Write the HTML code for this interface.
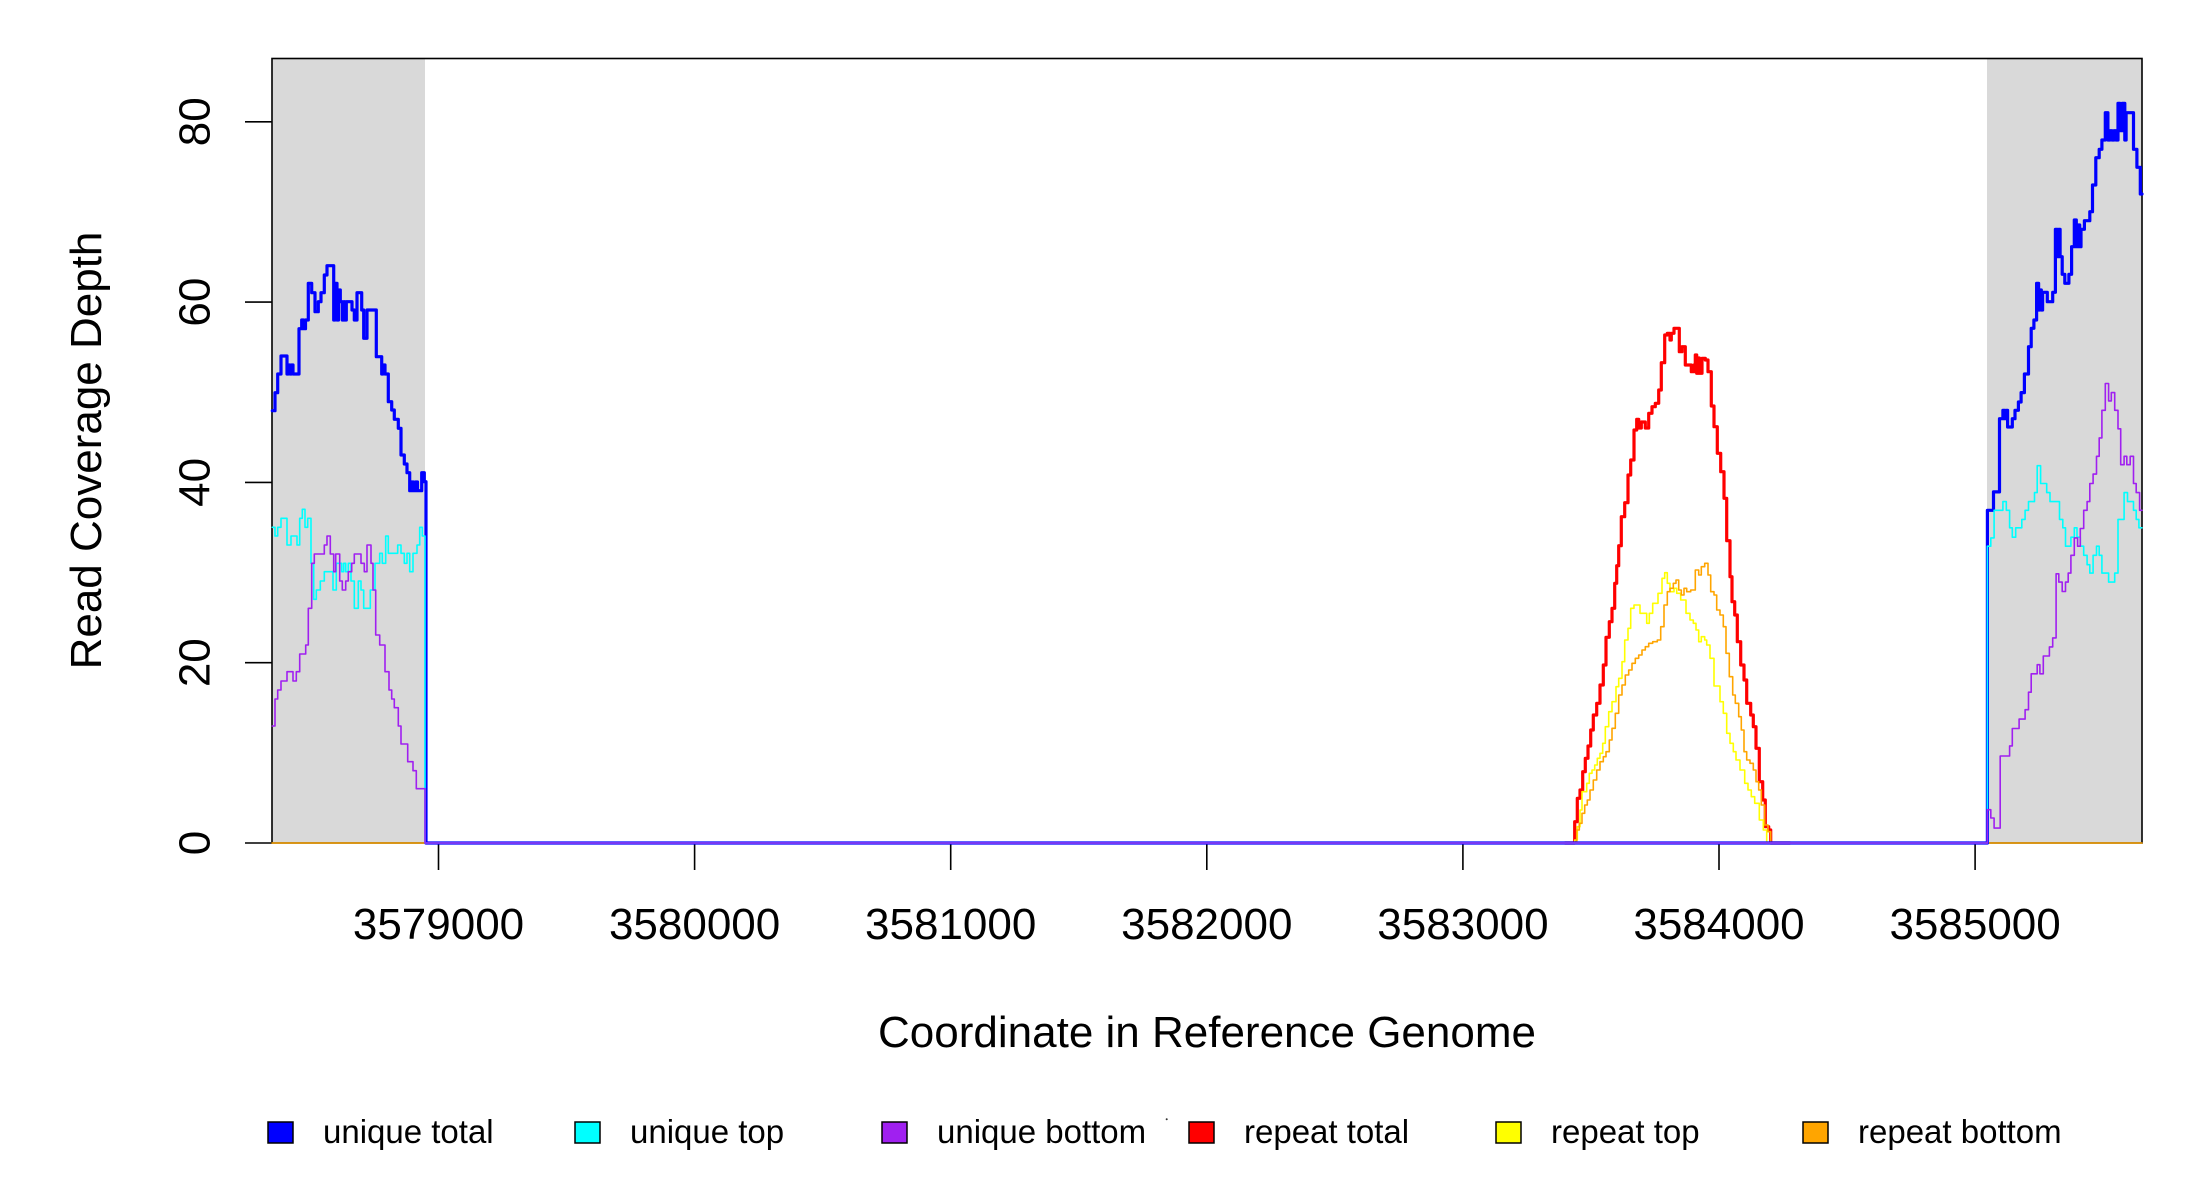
<!DOCTYPE html>
<html>
<head>
<meta charset="utf-8">
<style>
  html, body { margin: 0; padding: 0; background: #ffffff; }
  svg { display: block; }
  text { font-family: "Liberation Sans", Arial, sans-serif; fill: #000; }
</style>
</head>
<body>
<svg width="2200" height="1200" viewBox="0 0 2200 1200" xmlns="http://www.w3.org/2000/svg">
  <rect x="0" y="0" width="2200" height="1200" fill="#ffffff"/>

  <!-- shaded regions -->
  <rect x="272" y="58.5" width="153" height="784.5" fill="#d9d9d9"/>
  <rect x="1987" y="58.5" width="155" height="784.5" fill="#d9d9d9"/>

  <!-- plot box -->
  <rect x="272" y="58.5" width="1870" height="784.5" fill="none" stroke="#000" stroke-width="1.6"/>

  <!-- y ticks -->
  <g stroke="#000" stroke-width="1.6">
    <line x1="245" y1="843" x2="272" y2="843"/>
    <line x1="245" y1="662.7" x2="272" y2="662.7"/>
    <line x1="245" y1="482.4" x2="272" y2="482.4"/>
    <line x1="245" y1="302.1" x2="272" y2="302.1"/>
    <line x1="245" y1="121.8" x2="272" y2="121.8"/>
  </g>
  <!-- x ticks -->
  <g stroke="#000" stroke-width="1.6">
    <line x1="438.5" y1="843" x2="438.5" y2="870"/>
    <line x1="694.6" y1="843" x2="694.6" y2="870"/>
    <line x1="950.7" y1="843" x2="950.7" y2="870"/>
    <line x1="1206.8" y1="843" x2="1206.8" y2="870"/>
    <line x1="1462.9" y1="843" x2="1462.9" y2="870"/>
    <line x1="1719" y1="843" x2="1719" y2="870"/>
    <line x1="1975.1" y1="843" x2="1975.1" y2="870"/>
  </g>

  <!-- y tick labels -->
  <g font-size="44" text-anchor="middle">
    <text transform="translate(209.7,843) rotate(-90)">0</text>
    <text transform="translate(209.7,662.7) rotate(-90)">20</text>
    <text transform="translate(209.7,482.4) rotate(-90)">40</text>
    <text transform="translate(209.7,302.1) rotate(-90)">60</text>
    <text transform="translate(209.7,121.8) rotate(-90)">80</text>
  </g>
  <!-- x tick labels -->
  <g font-size="44" text-anchor="middle">
    <text x="438.5" y="939">3579000</text>
    <text x="694.6" y="939">3580000</text>
    <text x="950.7" y="939">3581000</text>
    <text x="1206.8" y="939">3582000</text>
    <text x="1462.9" y="939">3583000</text>
    <text x="1719" y="939">3584000</text>
    <text x="1975.1" y="939">3585000</text>
  </g>

  <!-- axis titles -->
  <text x="1207" y="1047" font-size="44" text-anchor="middle">Coordinate in Reference Genome</text>
  <text transform="translate(101,450.5) rotate(-90)" font-size="44" text-anchor="middle">Read Coverage Depth</text>

  <!-- series -->
  <g fill="none" stroke-linejoin="round" stroke-linecap="round">
    <!-- repeat total (red) -->
    <path stroke="#ff0000" stroke-width="3.2" d="M1565,843 H1574.7 V821.7 H1577.3 V798.3 H1580 V790 H1582.7 V771.7 H1585.3 V758.3 H1588 V746 H1590.7 V730 H1593.3 V715 H1596.7 V703.3 H1600 V685 H1603.3 V665 H1606 V637.3 H1609.3 V621.7 H1612 V608.3 H1614.7 V583.3 H1616.7 V565.7 H1618.7 V545.7 H1621.3 V516.7 H1624.7 V502.7 H1628 V475 H1630.7 V460 H1634 V430 H1636.7 V419.3 H1638.7 V428 H1641.3 V422 H1645.3 V428 H1648.7 V413.3 H1652 V406.7 H1655.3 V403.3 H1658.7 V390 H1661.3 V362.7 H1664.7 V335 H1667.3 V333.3 H1670 V340 H1671.3 V333.3 H1674 V328.3 H1679.3 V351.7 H1682 V346.7 H1685.3 V365 H1691.3 V371.7 H1694 V365 H1695.3 V355 H1696.7 V373.3 H1698 V358 H1699.3 V373.3 H1702 V358.3 H1705.3 V360 H1708 V371.7 H1711.3 V406 H1714 V426.7 H1717.3 V453.3 H1720.7 V471.7 H1724 V498.3 H1726.7 V540.7 H1730 V576.7 H1732 V601.7 H1734.7 V615 H1737.3 V641.7 H1740.7 V665 H1744 V680 H1746.7 V703.3 H1750.7 V715 H1753.3 V726.7 H1756 V748.3 H1759.3 V781.7 H1762.7 V800 H1765.3 V826.7 H1768.7 V830 H1770.7 V843 H1790"/>
    <!-- repeat top (yellow) -->
    <path stroke="#ffff00" stroke-width="1.6" d="M1570,843 H1574.7 V840 H1577.3 V826.7 H1580 V810 H1582 V791.7 H1586.7 V783.3 H1589.3 V773.3 H1592 V770 H1594.7 V765 H1597.3 V758.3 H1600 V753.3 H1602.7 V743.3 H1605.3 V726.7 H1608.7 V711.7 H1612 V701.7 H1616 V686.7 H1618.7 V678.3 H1622 V661.7 H1624.7 V640 H1628 V628.3 H1630.7 V608.3 H1634 V605 H1640 V613.3 H1646.7 V623.3 H1649.3 V613.3 H1652.7 V603.3 H1658 V593.3 H1662 V578.3 H1664.7 V572.7 H1667.3 V583.3 H1670 V591.7 H1674 V588.3 H1676.7 V593.3 H1680.7 V600 H1686 V613.3 H1690 V620 H1693.3 V623.3 H1696 V630 H1698.7 V641.7 H1701.3 V636.7 H1704.7 V640 H1706.7 V645 H1710 V658.3 H1714 V686 H1720 V701.7 H1723.3 V713.3 H1726.7 V733.3 H1730 V743.3 H1733.3 V751.7 H1736 V760 H1740 V770 H1744.7 V783.3 H1748 V790 H1751.3 V796.7 H1754.7 V803.3 H1759.3 V820 H1763.3 V830 H1766.7 V843 H1790"/>
    <!-- repeat bottom (orange) -->
    <path stroke="#ffa500" stroke-width="1.6" d="M272,843 H1576.7 V830 H1579.3 V823.3 H1582 V813.3 H1584.7 V805 H1587.3 V800 H1590 V790 H1593.3 V780 H1596.7 V770 H1600 V761.7 H1603.3 V756.7 H1606 V751.7 H1609.3 V740 H1612 V728.3 H1615.3 V713.3 H1618.7 V695 H1622 V685 H1625.3 V675 H1628.7 V670 H1632 V663.3 H1635.3 V658.3 H1638.7 V655 H1642 V650 H1645.3 V646.7 H1648.7 V643.3 H1652.7 V641.7 H1657.3 V640 H1660.7 V626.7 H1664 V605 H1667.3 V591.7 H1670 V588.3 H1673.3 V583.3 H1676 V580 H1678.7 V590 H1681.3 V595 H1684 V588.3 H1686.7 V591.7 H1690.7 V590 H1695.3 V570 H1698.7 V575 H1701.3 V566.7 H1704.7 V563.3 H1708 V575 H1710.7 V591.7 H1714 V595 H1716.7 V610 H1720 V615 H1723.3 V626.7 H1726 V653.3 H1729.3 V676.7 H1732.7 V695 H1735.3 V703.3 H1738.7 V716.7 H1741.3 V730 H1744 V751.7 H1746.7 V760 H1750 V763.3 H1753.3 V770 H1756 V781.7 H1758.7 V790 H1761.3 V805 H1764.7 V825 H1768 V831.7 H1770.7 V843 H2142"/>

    <!-- unique total (blue) -->
    <path stroke="#0000ff" stroke-width="3.2" d="M272.3,410.7 H275 V392.7 H277.7 V374 H281 V356 H287 V374 H288.3 V365 H290 V374 H291.5 V365 H293 V374 H299 V328.7 H301.7 V320 H303.5 V328.7 H305.5 V320 H308.3 V283.3 H311.7 V292.7 H315 V311.7 H318.3 V301.7 H321 V292.7 H324.3 V275 H327 V265.7 H333.7 V320 H335 V283.3 H337 V320 H338.5 V290 H340.3 V301.7 H342.3 V320 H344 V301.7 H345 V320 H346.3 V301.7 H350.3 V301.7 H352 V310 H354.3 V320 H357 V292.7 H361.7 V310 H363.7 V338.3 H367 V310 H376.3 V356.7 H381.7 V374 H383 V365 H385 V374 H388.3 V401.7 H391.7 V410 H394.3 V419.3 H398.3 V428.3 H401 V455 H404.3 V464 H407 V472.7 H409.7 V490.7 H411.5 V482 H413.5 V490.7 H415.5 V482 H417.5 V490.7 H421.7 V472.7 H424.3 V481.7 H426 V843 H1987.4 V510.3 H1993.5 V491.9 H1999.5 V418.7 H2002.9 V410.3 H2004.9 V418.7 H2006.3 V410.3 H2007.6 V427 H2012.3 V418.7 H2015 V410.3 H2018.4 V402 H2021.1 V392.6 H2024.4 V374 H2028.5 V346.7 H2031.2 V328.3 H2033.9 V320 H2036.6 V283.3 H2038.6 V310 H2039.9 V290 H2041.3 V310 H2042.6 V292.3 H2047.3 V301.7 H2052.7 V292.3 H2055.4 V229.3 H2057.4 V256.7 H2058.8 V229.3 H2060.1 V256.7 H2062.2 V274.3 H2064.8 V283.3 H2068.9 V274.3 H2071.6 V246.7 H2074.3 V220 H2076.3 V246.7 H2077.6 V225 H2079.7 V246.7 H2081 V229.3 H2084.4 V220.7 H2089.8 V211.7 H2092.5 V185 H2095.8 V157.7 H2099.2 V149.3 H2101.9 V140 H2105.3 V112.7 H2107.9 V140 H2110 V130.7 H2112 V140 H2114 V130.7 H2116 V140 H2118 V103.3 H2120 V130.7 H2122.1 V103.3 H2124.8 V140 H2126.1 V112.7 H2133.5 V149.3 H2136.9 V167.3 H2140.3 V194 H2142"/>

    <!-- unique top (cyan) -->
    <path stroke="#00ffff" stroke-width="1.6" d="M272.3,527.3 H275 V536 H277.7 V527.3 H281 V518.3 H287 V545 H291 V536 H297 V545 H299.7 V518.3 H302.3 V509.3 H305 V527.3 H307.7 V518.3 H311 V563.3 H313.7 V599.3 H316.3 V590 H320.3 V581 H324.3 V571.7 H330.3 V571.7 H333 V590 H336.3 V563.3 H340.3 V563.3 H341.7 V571.7 H343.7 V563.3 H345.7 V571.7 H348.3 V563.3 H351 V581 H354.3 V608.3 H358.3 V581 H361 V590 H363.7 V608.3 H370.3 V590 H375 V563.3 H379.7 V553.3 H382.3 V563.3 H385.7 V536 H388.3 V553.3 H397.7 V545 H401 V553.3 H404.3 V563.3 H407 V553.3 H409.7 V571.7 H413 V553.3 H417 V545 H419.7 V527.3 H422.3 V536 H425 V843 H1987.4 V546.2 H1990.8 V537.9 H1994.1 V510.3 H2002.9 V501.6 H2006.3 V510.3 H2009.6 V527.8 H2012.3 V537.2 H2015.7 V527.8 H2021.8 V519.4 H2025.1 V510.3 H2028.5 V501.6 H2034.5 V492.6 H2037.2 V465.7 H2040.6 V483.5 H2046.7 V492.6 H2050 V501.6 H2059.5 V519.4 H2062.8 V527.8 H2065.5 V546.2 H2070.9 V537.2 H2074.3 V527.8 H2077 V537.2 H2080.3 V546.2 H2083.7 V555.3 H2087.1 V564.7 H2089.8 V573.1 H2093.1 V555.3 H2096.5 V546.2 H2099.2 V555.3 H2101.9 V573.1 H2108.6 V582.1 H2114.7 V573.1 H2118 V519.4 H2124.1 V492.6 H2127.5 V501.6 H2133.5 V510.3 H2136.2 V519.4 H2138.9 V527.8 H2142"/>

    <!-- unique bottom (purple) -->
    <path stroke="#a020f0" stroke-width="1.6" d="M272.3,726 H275 V699 H277.7 V690 H281 V681 H287 V671.7 H293 V681 H296.3 V671.7 H299.7 V654 H305.7 V645 H308.3 V608.3 H311.7 V563.3 H314.3 V554 H324.3 V545 H327 V536 H330.3 V554 H333.7 V571.7 H335.7 V554 H339.7 V581 H342.3 V590 H345.7 V581 H348.3 V571.7 H351.7 V563.3 H354.3 V554 H361 V563.3 H364.3 V571.7 H367 V545 H371 V563.3 H373 V590 H375.7 V635 H379.7 V645 H385 V671.7 H389 V690 H391.7 V699 H394.3 V707.7 H398.3 V726 H401 V744 H407.7 V761.7 H413 V770.7 H416.3 V788.7 H425 V843 H1987.4 V809.7 H1990.8 V818 H1994.1 V828.1 H2000.2 V756 H2009.6 V745.9 H2012.3 V728.5 H2019.1 V719.1 H2025.1 V709.7 H2028.5 V692.2 H2031.2 V673.8 H2037.2 V664.7 H2039.9 V673.8 H2043.3 V656 H2049.4 V646.9 H2052.7 V637.9 H2056.1 V573.8 H2058.8 V582.1 H2062.2 V591.5 H2065.5 V582.1 H2068.2 V573.1 H2070.9 V555.3 H2074.3 V537.9 H2077.6 V546.2 H2080.3 V528.5 H2083.7 V510.3 H2087.1 V501.6 H2089.8 V483.5 H2093.1 V474.1 H2096.5 V456.3 H2099.2 V437.9 H2101.9 V410.3 H2105.3 V383.5 H2108.6 V400.9 H2111.3 V392.6 H2114.7 V410.3 H2118 V428.8 H2120.7 V464.7 H2124.1 V456.3 H2126.8 V464.7 H2130.2 V456.3 H2133.5 V483.5 H2136.2 V492.6 H2139.6 V510.3 H2142"/>
  </g>

  <!-- legend -->
  <g stroke="#000" stroke-width="1.5">
    <rect x="268" y="1122" width="25" height="21" fill="#0000ff"/>
    <rect x="575" y="1122" width="25" height="21" fill="#00ffff"/>
    <rect x="882" y="1122" width="25" height="21" fill="#a020f0"/>
    <rect x="1189" y="1122" width="25" height="21" fill="#ff0000"/>
    <rect x="1496" y="1122" width="25" height="21" fill="#ffff00"/>
    <rect x="1803" y="1122" width="25" height="21" fill="#ffa500"/>
  </g>
  <g font-size="33">
    <text x="323" y="1143">unique total</text>
    <text x="630" y="1143">unique top</text>
    <text x="937" y="1143">unique bottom</text>
    <text x="1244" y="1143">repeat total</text>
    <text x="1551" y="1143">repeat top</text>
    <text x="1858" y="1143">repeat bottom</text>
  </g>
  <circle cx="1166.7" cy="1119.3" r="1" fill="#333"/>
</svg>
</body>
</html>
